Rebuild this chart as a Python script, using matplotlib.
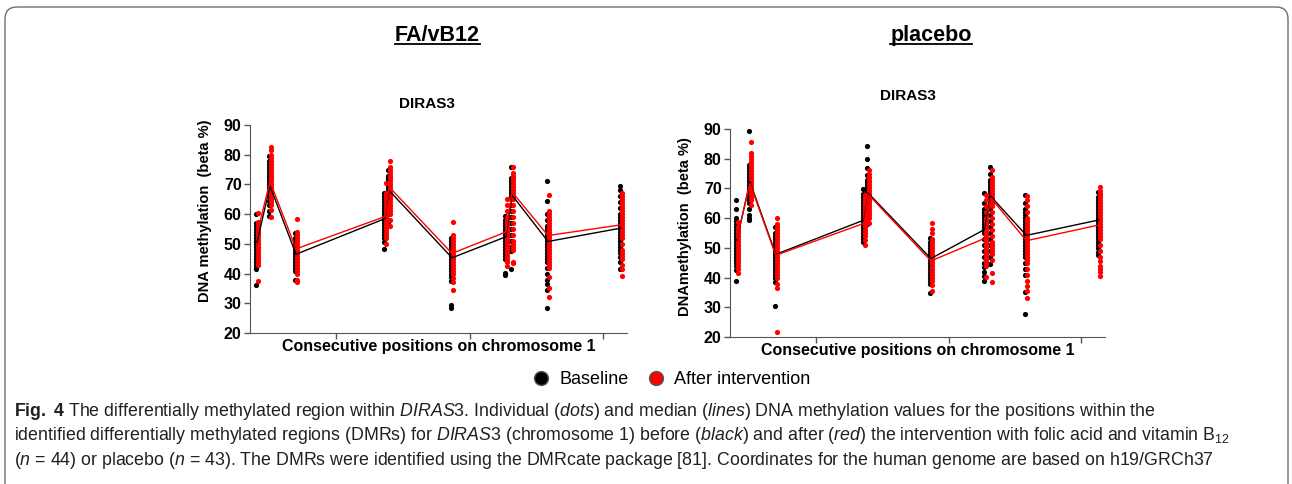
import numpy as np
import matplotlib.pyplot as plt
from matplotlib import font_manager
from matplotlib.lines import Line2D
from matplotlib.patches import FancyBboxPatch
from matplotlib.transforms import IdentityTransform

# Positions on chromosome 1 (relative order, same for both panels).
positions = [7, 20, 46, 135, 139, 202, 256, 262, 298, 371]

# Median methylation (beta %) per position.
fa_base_med = [50.5, 69.5, 46.5, 58.5, 68.0, 45.3, 52.4, 66.4, 50.8, 55.3]
fa_post_med = [53.3, 71.0, 48.3, 59.2, 69.2, 46.8, 54.0, 67.5, 52.8, 56.4]
pl_base_med = [52.6, 72.3, 47.8, 59.4, 68.4, 46.4, 56.2, 67.4, 54.2, 59.4]
pl_post_med = [53.2, 71.7, 47.5, 58.3, 68.0, 45.6, 53.2, 66.9, 52.4, 57.7]

# Individual values read from the dot columns.
fa_base = [
    [36, 41.5, 42, 43, 44, 45, 46, 47, 48, 49, 50, 50.5, 51, 52, 53, 54, 55, 56, 57, 60],
    [59.5, 61, 63, 64.5, 66, 67, 68, 69, 70, 71, 72, 73, 74, 75, 76, 77, 78, 79.5],
    [38, 41, 42, 43, 44, 45, 46, 47, 48, 49, 50, 51, 52, 53.5],
    [48.2, 50.5, 52, 53, 54, 55, 56, 57, 58, 59, 60, 61, 62, 63, 64, 65, 66, 67],
    [57, 58, 60, 61, 62, 63, 64, 65, 66, 67, 68, 69, 70, 71, 72, 73, 74.8],
    [28.3, 29.5, 37.5, 39, 40, 41, 42, 43, 44, 45, 46, 47, 48, 49, 50, 51, 52],
    [39.5, 40.2, 45, 46, 47, 48, 49, 50, 51, 52, 53, 54, 55, 56, 57, 58, 59.5],
    [41.5, 47.5, 49, 51, 53, 55, 57, 59, 61, 63, 65, 66, 67, 68, 69, 70, 71, 72, 76],
    [28.3, 34.5, 36.5, 38, 40, 42, 44, 45, 46, 47, 48, 49, 50, 51, 52, 53, 54, 55, 56, 58, 60, 64.5, 71],
    [41.5, 44, 45.5, 47, 48, 49, 50, 51, 52, 53, 54, 55, 56, 57, 58, 59, 60, 62, 64, 66, 68, 69.5],
]
fa_post = [
    [37.5, 43, 44, 45, 46, 47, 48, 49, 50, 51, 52, 53, 53.5, 54, 55, 56, 57, 57.5, 60.5],
    [59, 61.5, 63, 64, 65, 66, 67, 68, 69, 70, 71, 72, 73, 74, 75, 76, 77, 78, 79, 80, 81.5, 82.5],
    [37, 38, 40, 41, 42, 43, 44, 45, 46, 47, 48, 49, 50, 51, 52, 53, 54, 58.3],
    [49.8, 52, 53, 54, 55, 56, 57, 58, 59, 60, 61, 62, 63, 64, 65, 66, 67, 70.5],
    [56, 58, 60, 61, 62, 63, 64, 65, 66, 67, 68, 69, 70, 71, 72, 73, 74, 75, 76, 78],
    [34.5, 37, 38.5, 40, 41, 42, 43, 44, 45, 46, 47, 48, 49, 50, 51, 52, 53, 57.3],
    [42.5, 44, 45, 46, 47, 48, 49, 50, 51, 52, 53, 54, 55, 56, 57, 58, 59, 61, 63, 65],
    [43.5, 44, 48, 49, 50, 51, 53, 55, 57, 59, 61, 63, 65, 66, 67, 68, 69, 70, 71, 72, 73, 74, 76],
    [32.2, 35.2, 39, 42, 43, 44, 45, 46, 47, 48, 49, 50, 51, 52, 53, 54, 55, 56, 57, 58, 59, 60, 61, 66.5],
    [39.2, 41.5, 43, 45, 46, 47, 48, 50, 52, 53, 54, 55, 56, 57, 58, 59, 60, 61, 62, 63, 64, 65, 66, 67],
]
pl_base = [
    [38.8, 42.5, 44, 45, 46, 47, 48, 49, 50, 51, 52, 53, 54, 55, 56, 57, 58, 59, 60, 63, 66],
    [59.4, 60, 61, 63, 65, 66, 67, 68, 69, 70, 71, 72, 73, 74, 75, 76, 77, 78, 89.3],
    [30.4, 38.5, 40, 41, 42, 43, 44, 45, 46, 47, 48, 49, 50, 51, 52, 53, 54, 55, 56.9],
    [52.1, 53, 54, 55, 56, 57, 58, 59, 60, 61, 62, 63, 64, 65, 66, 67, 68, 69.8],
    [58, 60, 62, 63, 64, 65, 66, 67, 68, 69, 70, 71, 72, 73, 74.5, 77, 79.9, 84.3],
    [34.7, 38, 39, 40, 41, 42, 43, 44, 45, 46, 47, 48, 49, 50, 51, 52, 53.2],
    [38.8, 40.5, 42, 43.5, 45, 47, 49, 51, 53, 55, 56, 57, 58, 59, 60, 61, 62, 63, 65, 68.3],
    [44.4, 47, 49, 51, 53, 55, 57, 59, 61, 63, 65, 66, 67, 68, 69, 70, 71, 72, 73, 75, 77.3],
    [27.9, 35, 41, 43, 45, 47, 48, 49, 50, 51, 52, 53, 54, 55, 56, 57, 58, 59, 60, 61, 62, 63, 65, 67.8],
    [47.6, 48.5, 50, 51, 52, 53, 54, 55, 56, 57, 58, 59, 60, 61, 62, 63, 64, 65, 66, 67, 68.7],
]
pl_post = [
    [41.4, 43, 44, 45, 46, 47, 48, 49, 50, 51, 52, 53, 54, 55, 56, 57, 58.8],
    [64.5, 66, 67, 68, 69, 70, 71, 72, 73, 74, 75, 76, 77, 78, 79, 80, 81, 82, 85.7],
    [21.8, 36.6, 38, 40, 41, 42, 43, 44, 45, 46, 47, 48, 49, 50, 51, 52, 53, 54, 55, 56, 57, 58, 59.9],
    [50.9, 52.5, 54, 55, 56, 57, 58, 59, 60, 61, 62, 63, 64, 65, 66, 67, 67.7],
    [58.2, 60, 61, 62, 63, 64, 65, 66, 67, 68, 69, 70, 71, 72, 73, 74, 75, 76.2],
    [35.6, 37.5, 39, 40, 41, 42, 43, 44, 45, 46, 47, 48, 49, 50, 51, 52, 53, 55, 56.5, 58.2],
    [40.3, 44, 45, 46, 47, 48, 49, 50, 51, 52, 53, 54, 55, 56, 57, 58, 59, 60, 62, 64, 66, 67.8],
    [38.6, 41.5, 46, 48, 49, 50, 51, 52, 54, 56, 58, 60, 62, 64, 65, 66, 67, 68, 69, 70, 71, 72, 73, 74, 76.2],
    [33.2, 35.5, 37, 39, 41, 43, 45, 46, 47, 48, 49, 50, 51, 52, 53, 54, 55, 56, 57, 58, 59, 60, 62, 64, 66, 67.5],
    [40.6, 42, 43, 44, 45.5, 47, 49, 51, 53, 54, 55, 56, 57, 58, 59, 60, 61, 62, 63, 64, 65, 66, 67, 68, 69, 70.6],
]

x_ticks = [86, 220, 353]
y_ticks = [20, 30, 40, 50, 60, 70, 80, 90]

RED = '#ff0000'
W, H = 1292, 484

# Caption font: narrow if available.
names = {f.name for f in font_manager.fontManager.ttflist}
cap_font = 'Liberation Sans Narrow' if 'Liberation Sans Narrow' in names else 'Liberation Sans'
plt.rcParams['font.family'] = ['Liberation Sans', 'DejaVu Sans']
plt.rcParams['mathtext.fontset'] = 'custom'
plt.rcParams['mathtext.rm'] = cap_font
plt.rcParams['mathtext.it'] = cap_font + ':italic'
plt.rcParams['mathtext.bf'] = cap_font + ':bold'

fig = plt.figure(figsize=(W / 100, H / 100), dpi=100)

# Rounded frame around the figure panel.
frame = FancyBboxPatch((5, -40), 1283, 477 + 40, boxstyle='round,pad=0,rounding_size=12',
                       transform=IdentityTransform(), fill=False, edgecolor='#6d6e71', linewidth=1.0)
fig.add_artist(frame)


def panel(rect, base, post, base_med, post_med, ylabel, ylab_y):
    ax = fig.add_axes(rect)
    for i, p in enumerate(positions):
        ax.scatter([p - 1.0] * len(base[i]), base[i], s=14, color='black', linewidths=0, zorder=2)
    for i, p in enumerate(positions):
        ax.scatter([p + 1.0] * len(post[i]), post[i], s=14, color=RED, linewidths=0, zorder=3)
    ax.plot(positions, base_med, color='black', linewidth=1.0, zorder=4)
    ax.plot(positions, post_med, color=RED, linewidth=1.0, zorder=5)
    ax.set_xlim(0, 377)
    ax.set_ylim(20, 90)
    ax.set_yticks(y_ticks)
    ax.set_xticks(x_ticks)
    ax.set_xticklabels([])
    for lbl in ax.get_yticklabels():
        lbl.set_fontweight('bold')
        lbl.set_fontsize(11.5)
    ax.tick_params(axis='both', direction='out', length=4, width=1, color='#555555', pad=2)
    ax.spines['top'].set_visible(False)
    ax.spines['right'].set_visible(False)
    ax.spines['left'].set_color('#555555')
    ax.spines['bottom'].set_color('#555555')
    ax.set_ylabel(ylabel, fontsize=10.5, fontweight='bold')
    ax.yaxis.set_label_coords(-0.1, ylab_y)
    ax.set_xlabel('Consecutive positions on chromosome 1', fontsize=11.5, fontweight='bold', va='top')
    ax.xaxis.set_label_coords(0.5, -0.03)
    return ax


panel([250 / W, 1 - 333 / H, 377 / W, 208 / H], fa_base, fa_post, fa_base_med, fa_post_med,
      'DNA methylation  (beta %)', 0.59)
panel([730 / W, 1 - 337 / H, 375 / W, 208 / H], pl_base, pl_post, pl_base_med, pl_post_med,
      'DNAmethylation  (beta %)', 0.53)

# Subplot headers.
fig.text(427 / W, 1 - 103.5 / H, 'DIRAS3', fontsize=11, fontweight='bold', ha='center', va='center')
fig.text(908 / W, 1 - 96.5 / H, 'DIRAS3', fontsize=11, fontweight='bold', ha='center', va='center')
titles = [fig.text(437 / W, 1 - 41 / H, 'FA/vB12', fontsize=15.5, fontweight='bold', ha='center', va='baseline'),
          fig.text(931 / W, 1 - 41 / H, 'placebo', fontsize=15.5, fontweight='bold', ha='center', va='baseline')]

# Legend.
handles = [Line2D([], [], marker='o', linestyle='none', markersize=10, markerfacecolor='black',
                  markeredgecolor='#555555', markeredgewidth=1),
           Line2D([], [], marker='o', linestyle='none', markersize=10, markerfacecolor=RED,
                  markeredgecolor='#555555', markeredgewidth=1)]
fig.legend(handles, ['Baseline', 'After intervention'], loc='center', bbox_to_anchor=(671 / W, 1 - 380 / H),
           ncol=2, frameon=False, fontsize=13, handlelength=1.0, handletextpad=0.5, columnspacing=1.0)

# Caption.
cap_lines = [
    r'$\mathbf{Fig.\ 4}$ The differentially methylated region within $\mathit{DIRAS3}$. Individual ($\mathit{dots}$) and median ($\mathit{lines}$) DNA methylation values for the positions within the',
    r'identified differentially methylated regions (DMRs) for $\mathit{DIRAS3}$ (chromosome 1) before ($\mathit{black}$) and after ($\mathit{red}$) the intervention with folic acid and vitamin B$_{12}$',
    r'($\mathit{n}$ = 44) or placebo ($\mathit{n}$ = 43). The DMRs were identified using the DMRcate package [81]. Coordinates for the human genome are based on h19/GRCh37',
]
for k, line in enumerate(cap_lines):
    fig.text(14 / W, 1 - (416 + 24.5 * k) / H, line, fontsize=12.8, family=cap_font, color='#231f20',
             ha='left', va='baseline')

# Underline the panel titles.
fig.canvas.draw()
renderer = fig.canvas.get_renderer()
for t in titles:
    bb = t.get_window_extent(renderer)
    y = (1 - 44 / H) * H
    fig.add_artist(Line2D([bb.x0, bb.x1], [y, y], transform=IdentityTransform(), color='black', linewidth=1.3))

fig.savefig('out.png', dpi=100)
